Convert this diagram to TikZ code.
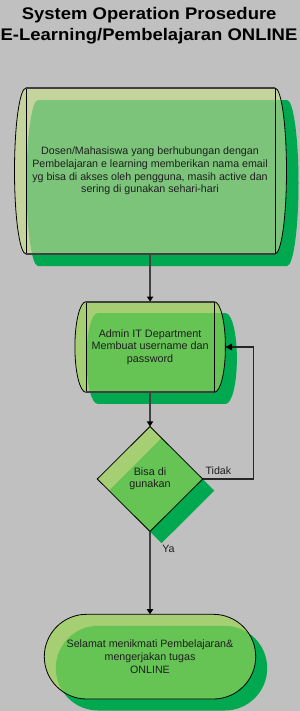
\documentclass[tikz,border=0pt]{standalone}
\usepackage{fontspec}
\setmainfont{Liberation Sans}
\usepackage{graphicx}
\usetikzlibrary{arrows.meta}
\definecolor{bg}{HTML}{C0C0C0}
\definecolor{shd}{HTML}{00A84F}
\definecolor{paleA}{HTML}{C5D49D}
\definecolor{medA}{HTML}{7DC47B}
\definecolor{paleB}{HTML}{A6CF74}
\definecolor{medB}{HTML}{66C455}
\definecolor{edgegray}{HTML}{404040}
\definecolor{txt}{HTML}{1E1E1E}
\def\px{0.75pt}
\tikzset{
  cyl/.style n args={5}{insert path={(#1,#3) -- (#2,#3)
      arc[start angle=-90,end angle=90,x radius=#5,y radius={(#4-#3)/2}]
      -- (#1,#4)
      arc[start angle=90,end angle=270,x radius=#5,y radius={(#4-#3)/2}] -- cycle}},
  diapath/.style={insert path={(150,426.5) -- (202.7,479) -- (150,531.5) -- (97.3,479) -- cycle}},
  termpath/.style={insert path={(86.65,614.3) -- (213.35,614.3)
      arc[start angle=-90,end angle=90,radius=42.35] -- (86.65,699)
      arc[start angle=90,end angle=270,radius=42.35] -- cycle}},
  thinline/.style={draw=black, line width=0.6pt},
  thickedge/.style={draw=edgegray, line width=1.3pt},
  anchorbox/.style={inner sep=0pt, outer sep=0pt, align=center, text=txt,
      font=\fontsize{8}{9.6}\selectfont},
  titlestyle/.style={inner sep=0pt, text=black, font=\fontsize{12.6}{15}\selectfont\bfseries},
  labelstyle/.style={inner sep=0pt, text=txt, font=\fontsize{8}{9.6}\selectfont},
  conn/.style={draw=edgegray, line width=1.3pt, -{Triangle[length=3.8pt,width=4.6pt,color=black]}},
  retconn/.style={draw=black!85, line width=0.8pt, -{Triangle[length=5pt,width=5pt,color=black]}}
}
\newcommand\greenshape[4]{%
  \fill[shd, shift={(#4,#4)}, #1];
  \fill[#2, #1];
  \begin{scope}
    \clip[#1];
    \fill[#3, shift={(#4,#4)}, #1];
  \end{scope}}
\begin{document}
\begin{tikzpicture}[x=0.75pt, y=-0.75pt]
  \fill[bg] (0,0) rectangle (300,711);
  \useasboundingbox (0,0) rectangle (300,711);

  % title
  \node[titlestyle, anchor=base] (title1) at (149.2,19) {\scalebox{1.1}[1]{System Operation Prosedure}};
  \node[titlestyle, anchor=base] (title2) at (149,40.7) {\scalebox{1.1}[1]{E-Learning/Pembelajaran ONLINE}};

  % box 1
  \greenshape{cyl={26}{275}{88}{254}{11.5}}{paleA}{medA}{12}
  \draw[thinline, cyl={26}{275}{88}{254}{11.5}];
  \draw[thinline] (26,88) -- (26,254) (275,88) -- (275,254);
  \draw[thickedge] (26,88) -- (275,88) (26,254) -- (275,254);

  % box 2
  \greenshape{cyl={86}{214.3}{301.7}{392.3}{11.1}}{paleB}{medB}{11.5}
  \draw[thinline, cyl={86}{214.3}{301.7}{392.3}{11.1}];
  \draw[thinline] (86,301.7) -- (86,392.3) (214.3,301.7) -- (214.3,392.3);
  \draw[thickedge] (86,301.7) -- (214.3,301.7) (86,392.3) -- (214.3,392.3);

  % diamond
  \greenshape{diapath}{paleB}{medB}{11.6}
  \draw[thinline, diapath];

  % terminal
  \greenshape{termpath}{paleB}{medB}{11.5}
  \draw[thinline, termpath];

  % text nodes (also used as anchors)
  \node[anchorbox, minimum width=272*\px, minimum height=166*\px] (box1) at (150,171)
    {Dosen/Mahasiswa yang berhubungan dengan\\Pembelajaran e learning memberikan nama email\\yg bisa di akses oleh pengguna, masih active dan\\sering di gunakan sehari-hari};
  \node[anchorbox, minimum width=150.6*\px, minimum height=90.6*\px,
        font=\fontsize{8.1}{9.5}\selectfont] (box2) at (150.1,347)
    {Admin IT Department\\Membuat username dan\\password};
  \node[anchorbox, minimum width=105.4*\px, minimum height=105*\px,
        font=\fontsize{8.1}{9.3}\selectfont] (dia) at (150,479)
    {Bisa di\\gunakan};
  \node[anchorbox, minimum width=211.4*\px, minimum height=84.7*\px,
        font=\fontsize{8}{9.4}\selectfont] (term) at (150,656.65)
    {Selamat menikmati Pembelajaran\&\\mengerjakan tugas\\ONLINE};

  \node[labelstyle, anchor=base] (tidak) at (218.4,474) {Tidak};
  \node[labelstyle, anchor=base] (ya) at (168.5,552.7) {Ya};

  % connectors
  \coordinate (bend) at (253.3,347);
  \draw[conn] (box1.south) -- (box2.north);
  \draw[conn] (box2.south) -- (dia.north);
  \draw[conn] (dia.south) -- (term.north);
  \draw[retconn] (dia.east) -| (bend) -- (box2.east);
\end{tikzpicture}
\end{document}
